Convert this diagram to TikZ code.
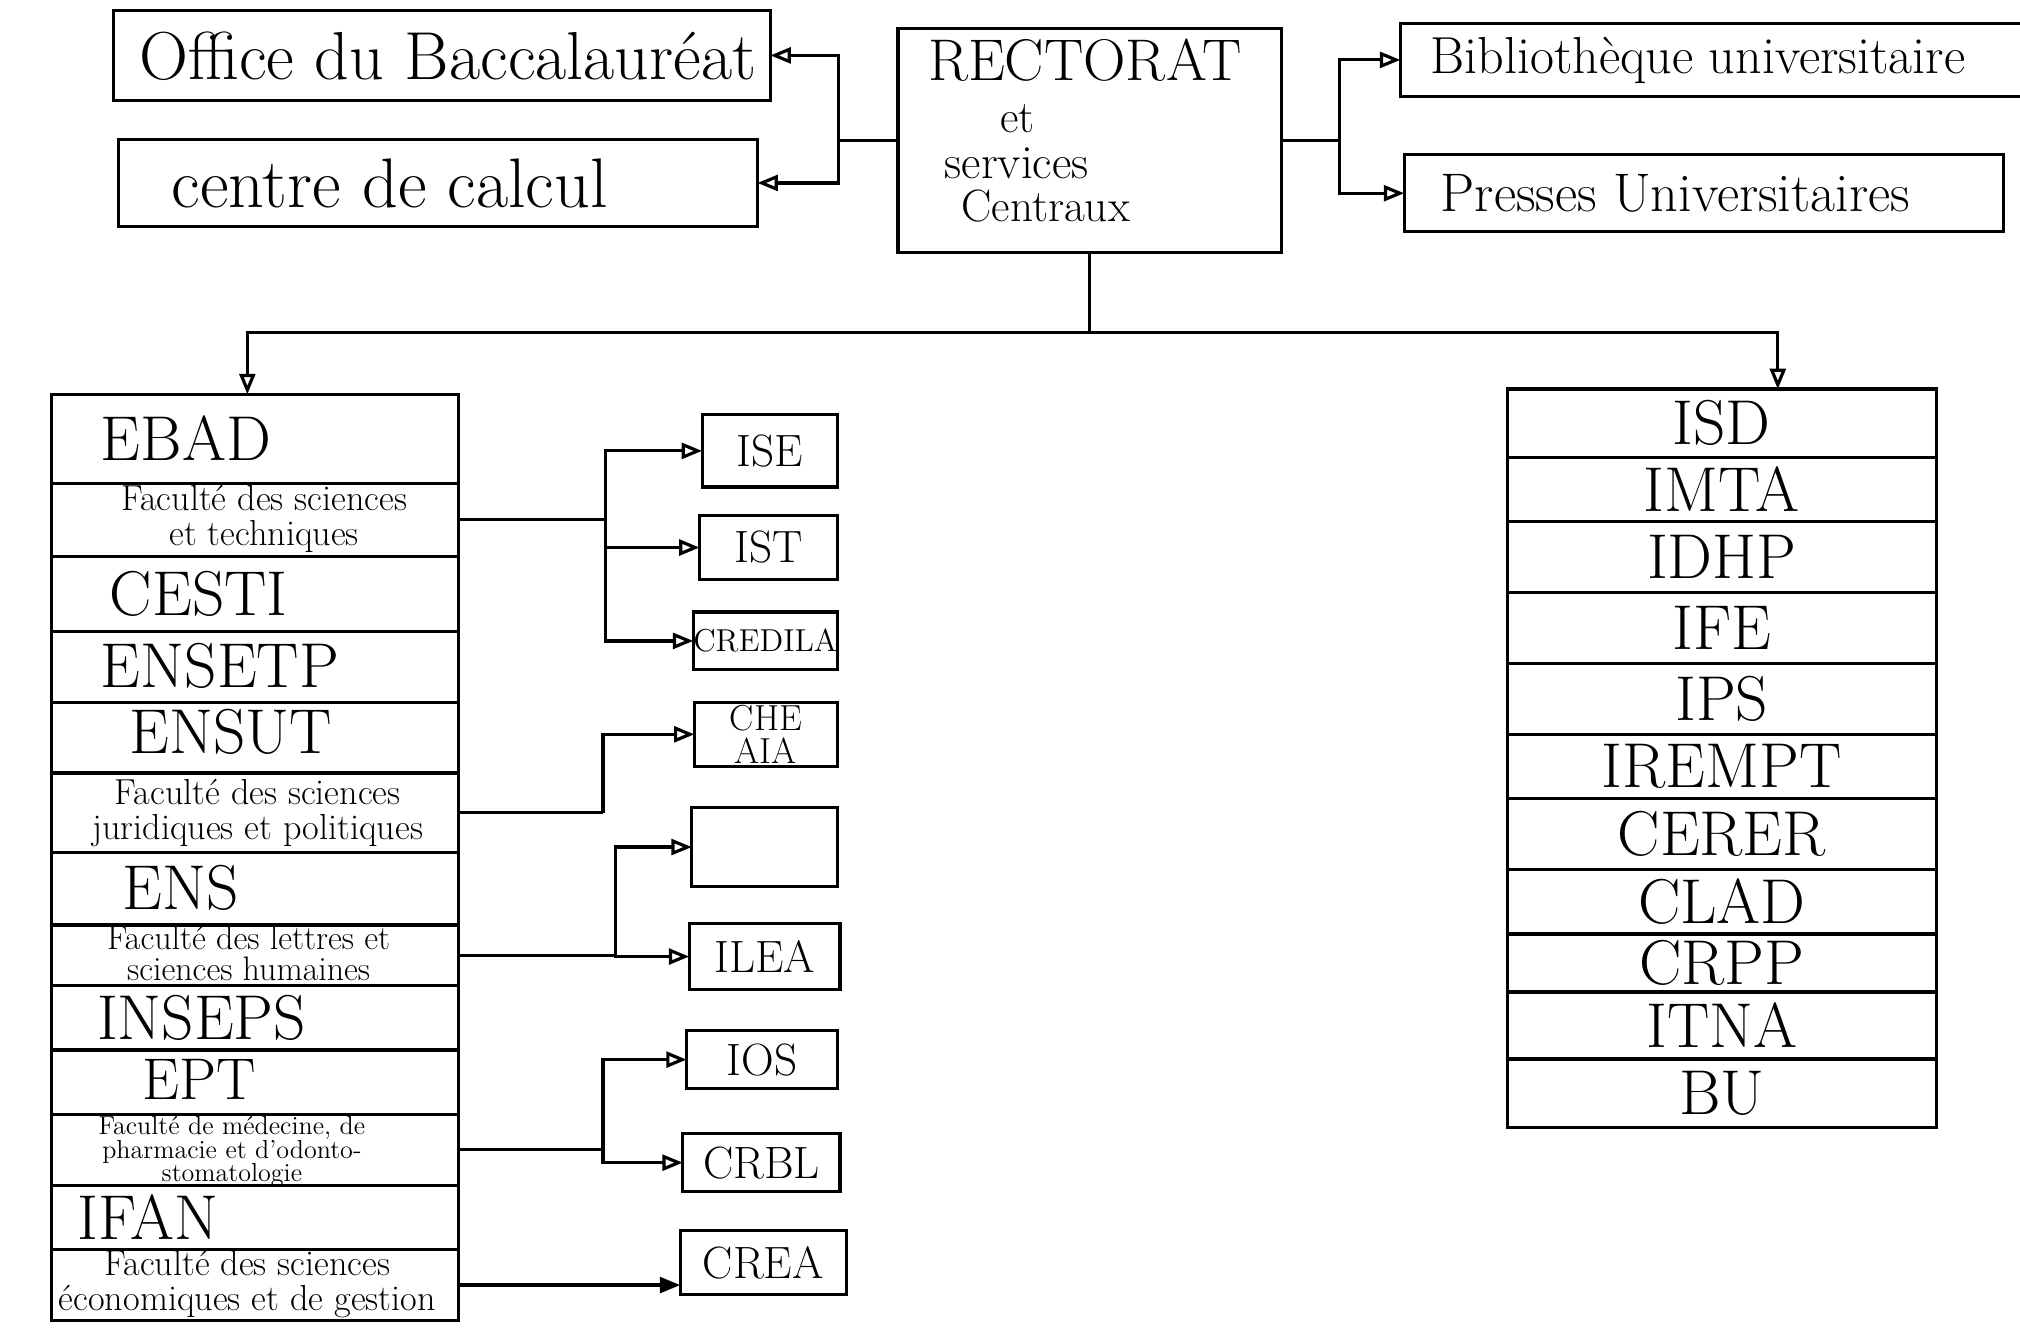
\documentclass[tikz,border=0pt]{standalone}
\usetikzlibrary{arrows.meta}
\newcommand\myfs[1]{\fontsize{#1}{#1}\selectfont}
\begin{document}
\begin{tikzpicture}[x=0.02cm,y=-0.02cm,
  box/.style={draw, line width=1.4pt, inner sep=0pt, outer sep=0pt},
  cbox/.style n args={4}{box, minimum width={(#3-#1)*0.02cm}, minimum height={(#4-#2)*0.02cm}, at={({(#1+#3)/2},{(#2+#4)/2})}},
  conn/.style={line width=1.4pt},
  arr/.style={conn, -{Triangle[open,length=9pt,width=7pt]}},
  arrf/.style={conn, -{Triangle[length=9pt,width=7pt]}},
  txt/.style={inner sep=0pt},
  big/.style={font=\myfs{28}},
  mid/.style={font=\myfs{20}},
  fac/.style={inner sep=0pt, align=center, font=\fontsize{16}{15.5}\selectfont}
]
\useasboundingbox (0,0) rectangle (1568,1032);
\fill[white] (0,0) rectangle (1568,1032);

% ---------- top row ----------
\node[cbox={88}{8}{598}{78}] (obac) {};
\node[txt, anchor=west, font=\myfs{30}] (tobac) at (108,44) {Office du Baccalauréat};
\node[cbox={92}{108}{588}{176}] (calc) {};
\node[txt, anchor=west, font=\myfs{31}] (tcalc) at (133,142) {centre de calcul};

\node[cbox={697}{22}{995}{196}] (rect) {};
\node[txt, anchor=west, font=\myfs{26}] (trect) at (720,47) {RECTORAT};
\node[txt, anchor=west, font=\myfs{20}] (tet) at (776,92) {et};
\node[txt, anchor=west, font=\myfs{21}] (tserv) at (733,127) {services};
\node[txt, anchor=west, font=\myfs{20}] (tcent) at (746,160) {Centraux};

\node[cbox={1087}{18}{1620}{75}] (bib) {};
\node[txt, anchor=west, font=\myfs{23}] (tbib) at (1110,47) {Bibliothèque universitaire};
\node[cbox={1090}{120}{1555}{180}] (pu) {};
\node[txt, anchor=west, font=\myfs{24}] (tpu) at (1118,150) {Presses Universitaires};

\coordinate (jl) at (651,109);
\coordinate (jr) at (1040,109);
\draw[conn] (rect.west) -- (jl);
\draw[arr] (jl) |- (obac.east);
\draw[arr] (jl) |- (calc.east);
\draw[conn] (rect.east) -- (jr);
\draw[arr] (jr) |- (bib.west);
\draw[arr] (jr) |- (pu.west);

% ---------- left column ----------
\node[cbox={40}{306}{356}{375}] (l1) {};
\node[cbox={40}{375}{356}{432}] (l2) {};
\node[cbox={40}{432}{356}{490}] (l3) {};
\node[cbox={40}{490}{356}{545}] (l4) {};
\node[cbox={40}{545}{356}{600}] (l5) {};
\node[cbox={40}{600}{356}{662}] (l6) {};
\node[cbox={40}{662}{356}{718}] (l7) {};
\node[cbox={40}{718}{356}{765}] (l8) {};
\node[cbox={40}{765}{356}{815}] (l9) {};
\node[cbox={40}{815}{356}{865}] (l10) {};
\node[cbox={40}{865}{356}{920}] (l11) {};
\node[cbox={40}{920}{356}{970}] (l12) {};
\node[cbox={40}{970}{356}{1025}] (l13) {};

\node[txt, big, anchor=west] (t1) at (78,340) {EBAD};
\node[fac] (t2) at (205,403) {Faculté des sciences\\et techniques};
\node[txt, big, anchor=west] (t3) at (85,461) {CESTI};
\node[txt, big, anchor=west] (t4) at (78,517) {ENSETP};
\node[txt, big, anchor=west] (t5) at (100,568) {ENSUT};
\node[fac] (t6) at (200,631) {Faculté des sciences\\juridiques et politiques};
\node[txt, big, anchor=west] (t7) at (95,689) {ENS};
\node[fac, font=\fontsize{15}{14}\selectfont] (t8) at (193,740) {Faculté des lettres et\\sciences humaines};
\node[txt, big, anchor=west] (t9) at (75,790) {INSEPS};
\node[txt, anchor=west, font=\myfs{26}] (t10) at (110,838) {EPT};
\node[inner sep=0pt, align=center, font=\fontsize{11.5}{10.5}\selectfont] (t11) at (180,894) {Faculté de médecine, de\\pharmacie et d'odonto-\\stomatologie};
\node[txt, big, anchor=west] (t12) at (60,945) {IFAN};
\node[fac] (t13) at (192,997) {Faculté des sciences\\économiques et de gestion};

% ---------- right column ----------
\node[cbox={1170}{302}{1503}{355}, big] (r1) {ISD};
\node[cbox={1170}{355}{1503}{405}, big] (r2) {IMTA};
\node[cbox={1170}{405}{1503}{460}, big] (r3) {IDHP};
\node[cbox={1170}{460}{1503}{515}, big] (r4) {IFE};
\node[cbox={1170}{515}{1503}{570}, big] (r5) {IPS};
\node[cbox={1170}{570}{1503}{620}, big] (r6) {IREMPT};
\node[cbox={1170}{620}{1503}{675}, big] (r7) {CERER};
\node[cbox={1170}{675}{1503}{725}, big] (r8) {CLAD};
\node[cbox={1170}{725}{1503}{770}, big] (r9) {CRPP};
\node[cbox={1170}{770}{1503}{822}, big] (r10) {ITNA};
\node[cbox={1170}{822}{1503}{875}, big] (r11) {BU};

% ---------- middle boxes ----------
\node[cbox={545}{322}{650}{378}, mid] (ise) {ISE};
\node[cbox={543}{400}{650}{450}, mid] (ist) {IST};
\node[cbox={541}{475}{647}{520}, font=\myfs{14}] (cred) {CREDILA};
\node[cbox={539}{545}{650}{595}, align=center, font=\fontsize{16}{15}\selectfont] (chea) {CHE\\AIA};
\node[cbox={537}{627}{650}{688}] (empty) {};
\node[cbox={535}{717}{652}{768}, mid] (ilea) {ILEA};
\node[cbox={533}{800}{650}{845}, mid] (ios) {IOS};
\node[cbox={530}{880}{652}{925}, mid] (crbl) {CRBL};
\node[cbox={528}{955}{657}{1005}, mid] (crea) {CREA};

% ---------- connectors down ----------
\coordinate (jd) at (846,258);
\coordinate (dl) at (192,258);
\coordinate (dr) at (1380,258);
\draw[conn] (rect.south) -- (jd);
\draw[arr] (jd) -- (dl) -- (dl |- l1.north);
\draw[arr] (jd) -- (dr) -- (dr |- r1.north);

% ---------- middle connectors ----------
\coordinate (m1) at (470,403.5);
\draw[conn] (l2.east) -- (m1);
\draw[arr] (m1) |- (ise.west);
\draw[arr] (m1) |- (ist.west);
\draw[arr] (m1) |- (cred.west);

\coordinate (m2) at (468,631);
\draw[conn] (l6.east) -- (m2);
\draw[arr] (m2) |- (chea.west);

\coordinate (m3) at (478,741.5);
\draw[conn] (l8.east) -- (m3);
\draw[arr] (m3) |- (empty.west);
\draw[arr] (m3) |- (ilea.west);

\coordinate (m4) at (468,892.5);
\draw[conn] (l11.east) -- (m4);
\draw[arr] (m4) |- (ios.west);
\draw[arr] (m4) |- (crbl.west);

\draw[arrf] (l13.east) -- (l13.east -| crea.west);
\end{tikzpicture}
\end{document}
